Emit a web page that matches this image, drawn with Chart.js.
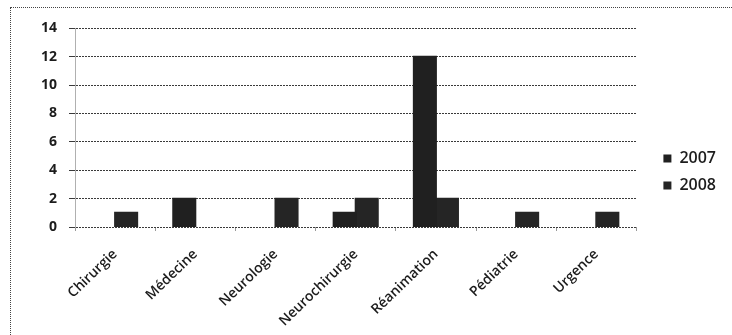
<!DOCTYPE html>
<html>
<head>
<meta charset="utf-8">
<script src="https://cdn.jsdelivr.net/npm/chart.js@4/dist/chart.umd.min.js"></script>
<style>
  html, body { margin: 0; padding: 0; background: #fff; }
  body { width: 732px; height: 335px; position: relative; overflow: hidden; }
  #frame {
    position: absolute; left: 10px; top: 7px; width: 722px; height: 328px;
    border-top: 1px dotted #444; border-left: 1px dotted #444;
    box-sizing: border-box;
  }
  #chart { display: block; }
</style>
</head>
<body>
<div id="frame"><canvas id="chart" width="721" height="327"></canvas></div>
<script>
// Services
const categories = ['Chirurgie', 'Médecine', 'Neurologie', 'Neurochirurgie', 'Réanimation', 'Pédiatrie', 'Urgence'];
// Counts per year
const values2007 = [0, 2, 0, 1, 12, 0, 0];
const values2008 = [1, 0, 2, 2, 2, 1, 1];
const yTicks = [0, 2, 4, 6, 8, 10, 12, 14];

const fontFamily = '"Open Sans", "Liberation Sans", sans-serif';
const ink = '#1c1c1c';

// Place the legend column: centred vertically, nudged right of the plot
const legendPlace = {
  id: 'legendPlace',
  afterLayout(chart) {
    const lg = chart.legend;
    const h = lg.bottom - lg.top;
    const c = 164;
    lg.top = c - h / 2;
    lg.bottom = c + h / 2;
    lg.left += 16;
    lg.right += 16;
  }
};

// Close the hairline gap between touching bars, but never draw empty ones
const inflate = ctx => (ctx.raw ? 1 : 0);

new Chart(document.getElementById('chart'), {
  type: 'bar',
  data: {
    labels: categories,
    datasets: [
      { label: '2007', data: values2007, backgroundColor: '#202020', borderWidth: 0, inflateAmount: inflate },
      { label: '2008', data: values2008, backgroundColor: '#252525', borderWidth: 0, inflateAmount: inflate }
    ]
  },
  options: {
    responsive: false,
    animation: false,
    devicePixelRatio: 1,
    layout: { padding: { left: 18, right: 22, top: 2, bottom: 0 } },
    datasets: { bar: { categoryPercentage: 0.55, barPercentage: 1.0 } },
    plugins: {
      legend: {
        position: 'right',
        align: 'center',
        labels: {
          color: ink,
          font: { family: fontFamily, size: 16, weight: '600' },
          boxWidth: 8,
          boxHeight: 8,
          padding: 11
        }
      },
      tooltip: { enabled: false }
    },
    scales: {
      x: {
        afterFit: axis => { axis.height = 108; },
        grid: { drawOnChartArea: false, drawTicks: true, tickLength: 4, color: '#999' },
        border: { display: false },
        ticks: {
          color: ink,
          font: { family: fontFamily, size: 14, weight: '600' },
          maxRotation: 44, minRotation: 44, padding: 15
        }
      },
      y: {
        min: 0,
        max: 14,
        afterBuildTicks: axis => { axis.ticks = yTicks.map(v => ({ value: v })); },
        grid: { color: '#3a3a3a', tickLength: 6, lineWidth: 1, drawTicks: true },
        border: { color: '#b0b0b0', dash: [2, 1] },
        ticks: { color: ink, font: { family: fontFamily, size: 14, weight: '700' }, padding: 12 }
      }
    }
  },
  plugins: [legendPlace, {
    id: 'dottedGrid',
    beforeDraw(chart) {
      chart.options.scales.y.grid.borderDash = [2, 1];
    }
  }]
});
</script>
</body>
</html>
